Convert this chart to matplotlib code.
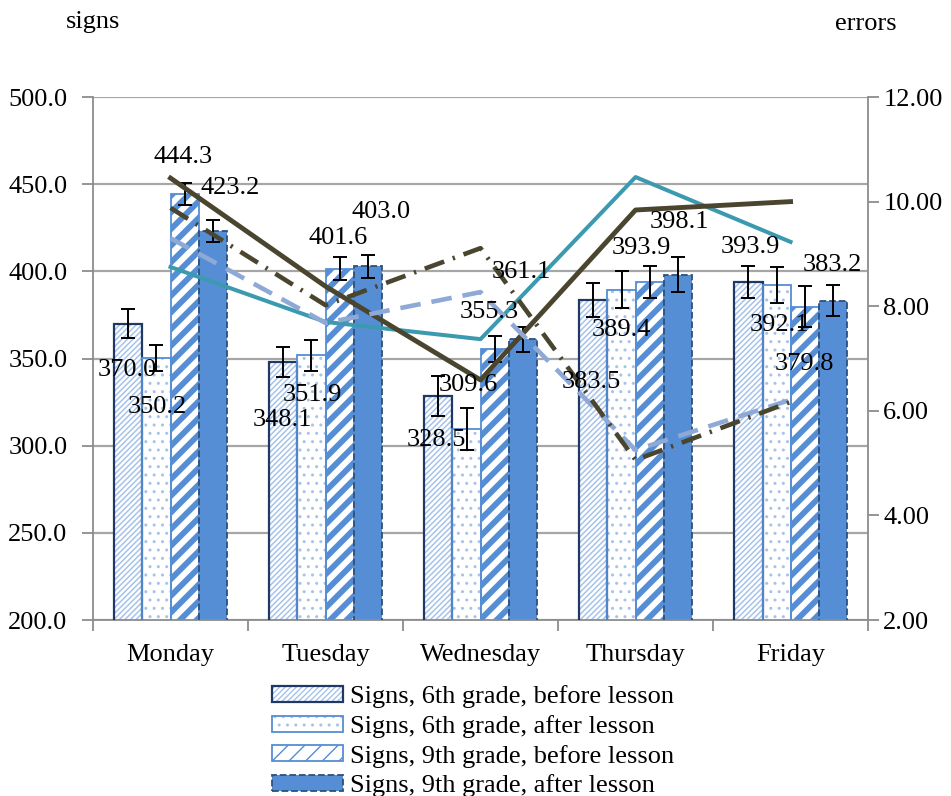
import matplotlib
matplotlib.use('Agg')
import matplotlib.pyplot as plt
import numpy as np
from matplotlib.patches import Patch

plt.rcParams['font.family'] = ['Liberation Serif', 'DejaVu Serif']
plt.rcParams['font.size'] = 19

days = ['Monday', 'Tuesday', 'Wednesday', 'Thursday', 'Friday']

# signs per minute (left axis)
g6_before = [370.0, 348.1, 328.5, 383.5, 393.9]
g6_after = [350.2, 351.9, 309.6, 389.4, 392.1]
g9_before = [444.3, 401.6, 355.3, 393.9, 379.8]
g9_after = [423.2, 403.0, 361.1, 398.1, 383.2]

err6_before = [8.3, 8.6, 11.2, 9.8, 9.2]
err6_after = [7.5, 8.9, 12.3, 10.6, 10.3]
err9_before = [6.3, 6.6, 7.5, 9.2, 12.0]
err9_after = [6.3, 6.6, 7.2, 10.0, 8.9]

# errors (right axis)
errors6_before = [8.75, 7.70, 7.37, 10.47, 9.23]
errors9_before = [10.45, 8.38, 6.59, 9.84, 10.00]
errors6_after = [9.30, 7.68, 8.27, 5.25, 6.21]
errors9_after = [9.88, 8.02, 9.11, 5.06, 6.17]

blue = '#558ED5'
navy = '#1F3864'
light = '#A6C3EA'

fig = plt.figure(figsize=(9.51, 7.96), dpi=100)
ax = fig.add_axes([0.0978, 0.2211, 0.815, 0.657])
x = np.arange(len(days))
w = 0.181


def hatched_bar(xpos, vals, hatch, hcolor, hlw, face, ecolor, elw, ls='-'):
    with plt.rc_context({'hatch.linewidth': hlw}):
        b1 = ax.bar(xpos, vals, w, color=face, edgecolor=hcolor, hatch=hatch,
                    linewidth=0, zorder=2)
    for p in b1:
        if hasattr(p, 'set_hatch_linewidth'):
            p.set_hatch_linewidth(hlw)
    b2 = ax.bar(xpos, vals, w, color='none', edgecolor=ecolor, linewidth=elw,
                linestyle=ls, zorder=3)
    h1 = Patch(facecolor=face, edgecolor=hcolor, hatch=hatch, linewidth=0)
    if hasattr(h1, 'set_hatch_linewidth'):
        h1.set_hatch_linewidth(hlw)
    h2 = Patch(facecolor='none', edgecolor=ecolor, linewidth=elw, linestyle=ls)
    return (h1, h2)


h_a = hatched_bar(x - 1.5 * w, g6_before, '//////', light, 1.1, 'white', navy, 1.6)
h_b = hatched_bar(x - 0.5 * w, g6_after, '..', light, 1.0, 'white', blue, 1.3)
h_c = hatched_bar(x + 0.5 * w, g9_before, '//', blue, 4.2, 'white', blue, 1.3)
h_d = hatched_bar(x + 1.5 * w, g9_after, None, blue, 1.0, blue, '#2F4F7A', 1.3, '--')

series = [g6_before, g6_after, g9_before, g9_after]
errs = [err6_before, err6_after, err9_before, err9_after]
for i, (vals, e) in enumerate(zip(series, errs)):
    ax.errorbar(x + (i - 1.5) * w, vals, yerr=e, fmt='none', ecolor='black',
                elinewidth=1.4, capsize=5, capthick=1.4, zorder=4)

ax.set_xlim(-0.5, 4.5)
ax.set_ylim(200, 500)
ax.set_yticks(np.arange(200, 501, 50))
ax.yaxis.set_major_formatter(matplotlib.ticker.FormatStrFormatter('%.1f'))
ax.set_xticks(x)
ax.set_xticklabels(days)
ax.set_xticks(np.arange(-0.5, 5, 1), minor=True)
ax.tick_params(axis='x', which='major', length=0, pad=17)
ax.tick_params(axis='x', which='minor', length=8, color='#8C8C8C', width=1.3)
ax.tick_params(axis='y', length=8, color='#8C8C8C', width=1.3, pad=10.5)
ax.grid(axis='y', color='#A6A6A6', linewidth=1.6, zorder=0)
ax.set_axisbelow(True)
for s in ['left', 'right', 'bottom']:
    ax.spines[s].set_color('#8C8C8C')
    ax.spines[s].set_linewidth(1.3)
ax.spines['top'].set_visible(False)

ax2 = ax.twinx()
ax2.set_ylim(2, 12)
ax2.set_yticks(np.arange(2, 12.1, 2))
ax2.yaxis.set_major_formatter(matplotlib.ticker.FormatStrFormatter('%.2f'))
ax2.tick_params(axis='y', length=8, color='#8C8C8C', width=1.3, pad=3)
for s in ax2.spines.values():
    s.set_visible(False)

ax2.plot(x, errors6_before, color='#3C9AB0', lw=2.9, zorder=5)
ax2.plot(x, errors9_before, color='#4A452E', lw=3.5, zorder=5)
ax2.plot(x, errors6_after, color='#8FA9D6', lw=3.3, dashes=(4.5, 2.4), zorder=5)
ax2.plot(x, errors9_after, color='#4A452E', lw=3.3, dashes=(4.5, 2.0, 0.5, 2.0), zorder=5)

# data labels, offsets in pixels from the bar top
offsets = [
    [(-1, -46), (-1, -58), (-2, -44), (-2, -82), (2, 35)],
    [(1, -49), (1, -40), (2, 44), (0, -40), (3, -40)],
    [(-1, 37), (-1, 31), (-5, 37), (-8, 34), (0, -57)],
    [(18, 43), (13, 54), (-1, 67), (2, 53), (0, 36)],
]
for i, vals in enumerate(series):
    for j, v in enumerate(vals):
        ax2.annotate(f'{v:.1f}', xy=(x[j] + (i - 1.5) * w, v), xycoords=ax.transData,
                     xytext=offsets[i][j], textcoords='offset pixels',
                     ha='center', va='center', zorder=6)

fig.text(0.098, 0.972, 'signs', ha='center', va='center')
fig.text(0.91, 0.970, 'errors', ha='center', va='center')

fig.legend([h_a, h_b, h_c, h_d],
           ['Signs, 6th grade, before lesson', 'Signs, 6th grade, after lesson',
            'Signs, 9th grade, before lesson', 'Signs, 9th grade, after lesson'],
           loc='upper left', bbox_to_anchor=(0.286, 0.139), frameon=False,
           borderpad=0, borderaxespad=0, handlelength=2.7, handleheight=0.55,
           handletextpad=0.27, labelspacing=0.25)

fig.savefig('out.png', dpi=100)
